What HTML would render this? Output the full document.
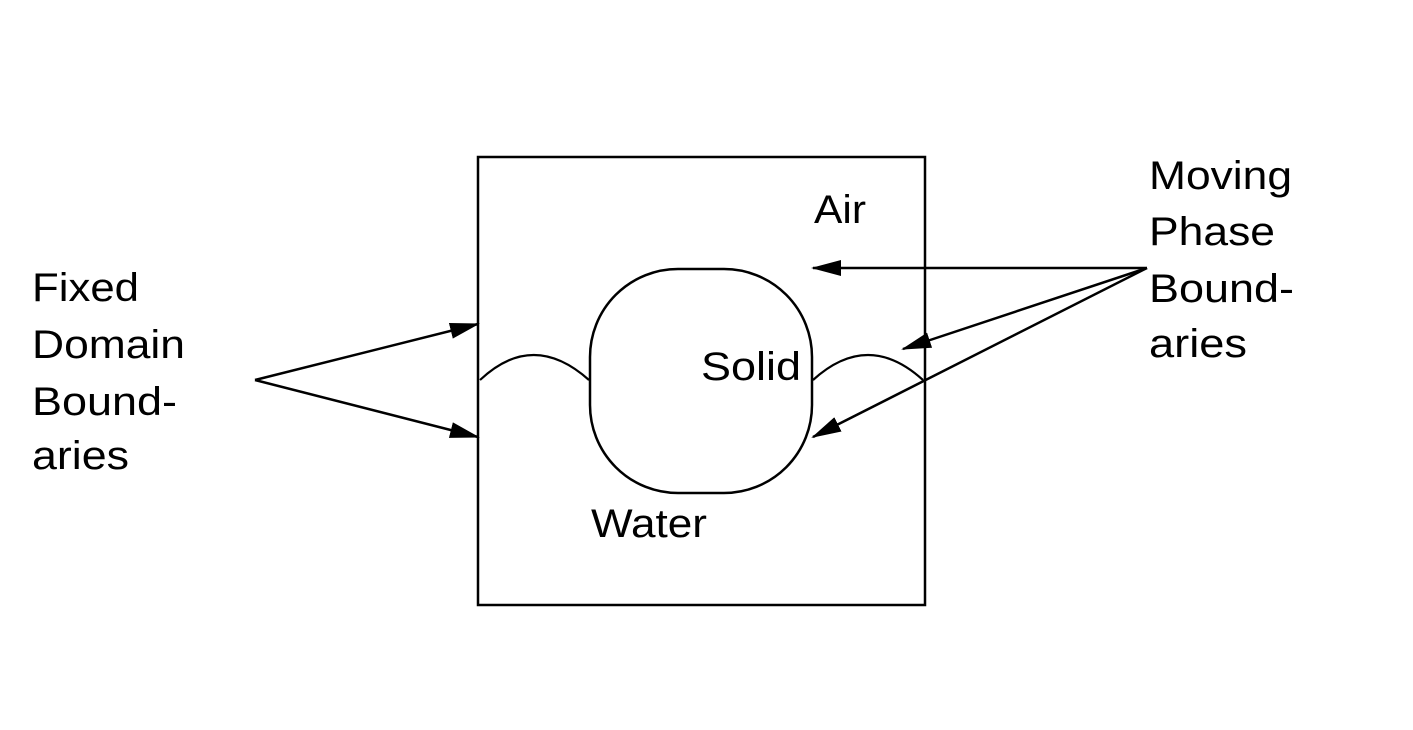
<!DOCTYPE html>
<html><head><meta charset="utf-8"><style>
html,body{margin:0;padding:0;background:#fff;}
svg{display:block;}
text{font-family:"Liberation Sans",sans-serif;font-size:40px;fill:#000;}
</style></head><body>
<svg width="1413" height="730" viewBox="0 0 1413 730">
<defs>
<marker id="ah" markerWidth="30" markerHeight="16" refX="28" refY="8" orient="auto" markerUnits="userSpaceOnUse">
<path d="M0,0 L30,8 L0,16 Z" fill="#000"/>
</marker>
</defs>
<rect x="478" y="157" width="447" height="448" fill="none" stroke="#000" stroke-width="2.5"/>
<rect x="590" y="269" width="222" height="224" rx="88" ry="88" fill="none" stroke="#000" stroke-width="2.5"/>
<path d="M480,380 Q533,330 589,380" fill="none" stroke="#000" stroke-width="2.2"/>
<path d="M813,380 Q868,330 923,380" fill="none" stroke="#000" stroke-width="2.2"/>
<text x="814" y="223" textLength="52" lengthAdjust="spacingAndGlyphs">Air</text>
<text x="701" y="380" textLength="100" lengthAdjust="spacingAndGlyphs">Solid</text>
<text x="591" y="537" textLength="116" lengthAdjust="spacingAndGlyphs">Water</text>
<g>
<text x="32" y="301" textLength="107" lengthAdjust="spacingAndGlyphs">Fixed</text>
<text x="32" y="358" textLength="153" lengthAdjust="spacingAndGlyphs">Domain</text>
<text x="32" y="415" textLength="145" lengthAdjust="spacingAndGlyphs">Bound-</text>
<text x="32" y="469" textLength="97" lengthAdjust="spacingAndGlyphs">aries</text>
</g>
<g>
<text x="1149" y="189" textLength="143" lengthAdjust="spacingAndGlyphs">Moving</text>
<text x="1149" y="245" textLength="126" lengthAdjust="spacingAndGlyphs">Phase</text>
<text x="1149" y="302" textLength="145" lengthAdjust="spacingAndGlyphs">Bound-</text>
<text x="1149" y="357" textLength="98" lengthAdjust="spacingAndGlyphs">aries</text>
</g>
<g stroke="#000" stroke-width="2.5" fill="none">
<line x1="255" y1="380" x2="478" y2="324" marker-end="url(#ah)"/>
<line x1="255" y1="380" x2="478" y2="437" marker-end="url(#ah)"/>
<line x1="1147" y1="268" x2="813" y2="268" marker-end="url(#ah)"/>
<line x1="1147" y1="268" x2="903" y2="349" marker-end="url(#ah)"/>
<line x1="1147" y1="268" x2="813" y2="437" marker-end="url(#ah)"/>
</g>
</svg>
</body></html>
